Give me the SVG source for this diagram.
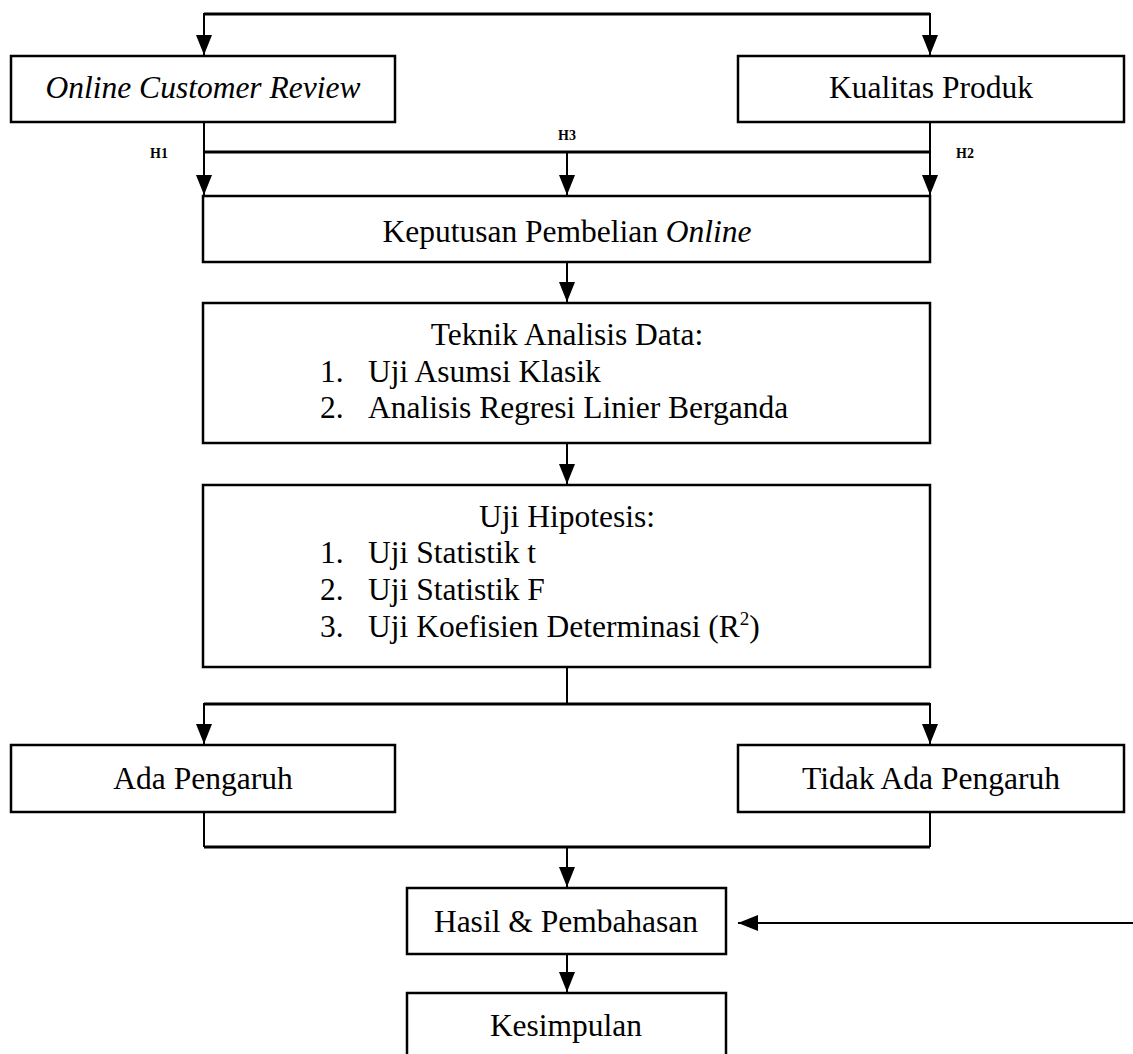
<svg xmlns="http://www.w3.org/2000/svg" width="1133" height="1054" viewBox="0 0 1133 1054">
<style>
  .box { fill: #ffffff; stroke: #000000; stroke-width: 2.5; }
  .t { font-family: "Liberation Serif", "Times New Roman", serif; font-size: 31.5px; fill: #000000; }
  .c { text-anchor: middle; }
  .i { font-style: italic; }
  .lbl { font-family: "Liberation Serif", "Times New Roman", serif; font-size: 14px; font-weight: bold; fill: #000000; text-anchor: middle; }
  .v { fill: none; stroke: #000000; stroke-width: 2; }
  .h { fill: none; stroke: #000000; stroke-width: 3; }
  .a { fill: none; stroke: #000000; stroke-width: 2; marker-end: url(#arr); }
</style>
<defs>
  <marker id="arr" markerUnits="userSpaceOnUse" markerWidth="22" markerHeight="18" refX="20" refY="8" orient="auto">
    <path d="M0,0 L20,8 L0,16 Z" fill="#000000"/>
  </marker>
</defs>
<rect width="1133" height="1054" fill="#ffffff"/>

<g id="connectors">
  <path class="h" d="M204,14 H930"/>
  <path class="a" d="M204,13 V55"/>
  <path class="a" d="M930,13 V55"/>
  <path class="a" d="M204,122 V195"/>
  <path class="a" d="M930,122 V195"/>
  <path class="h" d="M204,152 H930"/>
  <path class="a" d="M567,152 V195"/>
  <path class="a" d="M567,262 V302"/>
  <path class="a" d="M567,443 V484"/>
  <path class="v" d="M567,667 V704"/>
  <path class="h" d="M204,704 H930"/>
  <path class="a" d="M204,703 V744"/>
  <path class="a" d="M930,703 V744"/>
  <path class="v" d="M204,812 V847"/>
  <path class="v" d="M930,812 V847"/>
  <path class="h" d="M204,847 H930"/>
  <path class="a" d="M567,847 V887"/>
  <path class="a" d="M567,954 V992"/>
  <path class="a" d="M1133,923 H738"/>
</g>

<g id="labels">
  <text class="lbl" x="159" y="158">H1</text>
  <text class="lbl" x="567" y="140">H3</text>
  <text class="lbl" x="965" y="158">H2</text>
</g>

<g id="node-ocr">
  <rect class="box" x="11" y="56" width="384" height="66"/>
  <text class="t c i" x="203" y="98">Online Customer Review</text>
</g>
<g id="node-kp">
  <rect class="box" x="738" y="56" width="386" height="66"/>
  <text class="t c" x="931" y="98">Kualitas Produk</text>
</g>
<g id="node-keputusan">
  <rect class="box" x="203" y="196" width="727" height="66"/>
  <text class="t c" x="567" y="242">Keputusan Pembelian <tspan class="i">Online</tspan></text>
</g>
<g id="node-teknik">
  <rect class="box" x="203" y="303" width="727" height="140"/>
  <text class="t c" x="567" y="345">Teknik Analisis Data:</text>
  <text class="t" x="320" y="382">1.</text>
  <text class="t" x="368" y="382">Uji Asumsi Klasik</text>
  <text class="t" x="320" y="418">2.</text>
  <text class="t" x="368" y="418">Analisis Regresi Linier Berganda</text>
</g>
<g id="node-uji">
  <rect class="box" x="203" y="485" width="727" height="182"/>
  <text class="t c" x="567" y="527">Uji Hipotesis:</text>
  <text class="t" x="320" y="563">1.</text>
  <text class="t" x="368" y="563">Uji Statistik t</text>
  <text class="t" x="320" y="600">2.</text>
  <text class="t" x="368" y="600">Uji Statistik F</text>
  <text class="t" x="320" y="637">3.</text>
  <text class="t" x="368" y="637">Uji Koefisien Determinasi (R<tspan font-size="19" dy="-12">2</tspan><tspan dy="12">)</tspan></text>
</g>
<g id="node-ada">
  <rect class="box" x="11" y="745" width="384" height="67"/>
  <text class="t c" x="203" y="789">Ada Pengaruh</text>
</g>
<g id="node-tidak">
  <rect class="box" x="738" y="745" width="386" height="67"/>
  <text class="t c" x="931" y="789">Tidak Ada Pengaruh</text>
</g>
<g id="node-hasil">
  <rect class="box" x="407" y="888" width="319" height="66"/>
  <text class="t c" x="566" y="932">Hasil &amp; Pembahasan</text>
</g>
<g id="node-kesimpulan">
  <rect class="box" x="407" y="993" width="319" height="80"/>
  <text class="t c" x="566" y="1036">Kesimpulan</text>
</g>
</svg>
